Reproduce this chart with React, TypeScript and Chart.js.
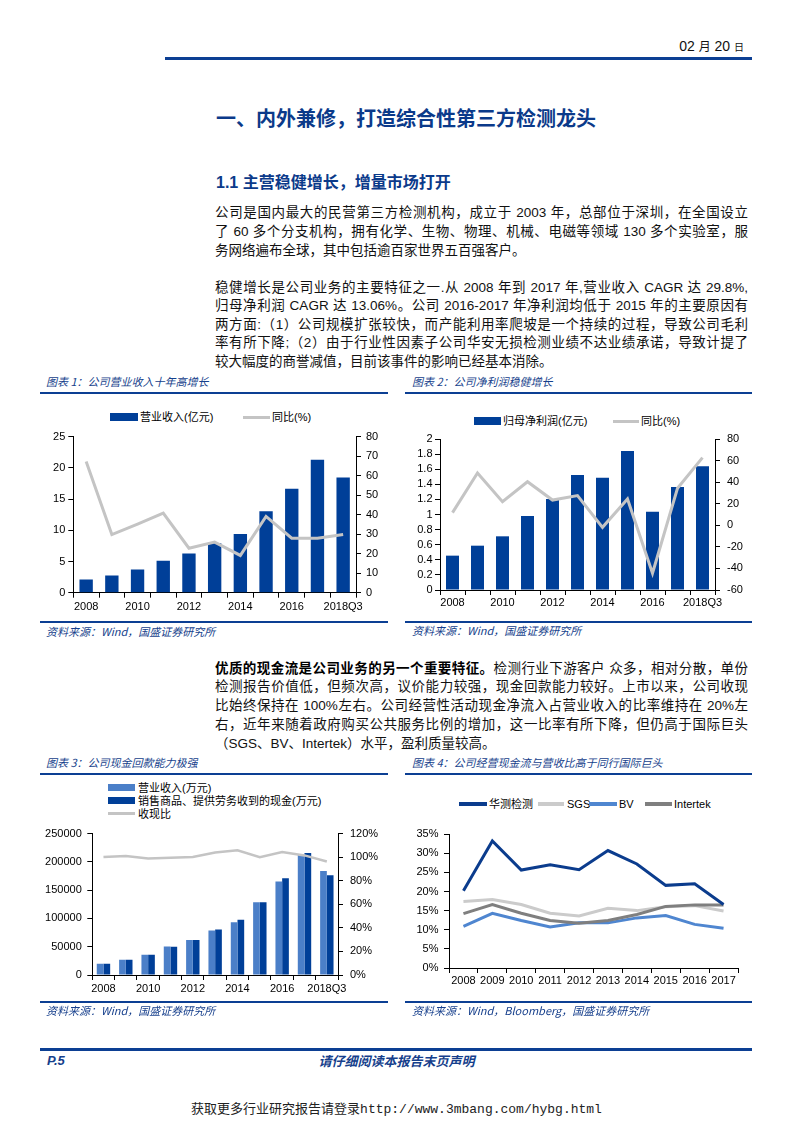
import React, { useEffect, useRef } from "react";
import { Chart, registerables } from "chart.js";

Chart.register(...registerables);

// ---------------- data ----------------
const yearsA = ["2008", "2009", "2010", "2011", "2012", "2013", "2014", "2015", "2016", "2017", "2018Q3"];
const revenueYi = [2.11, 2.75, 3.7, 5.13, 6.29, 7.93, 9.41, 13.05, 16.65, 21.3, 18.45];
const revenueGrowth = [67.3, 29.8, 35.2, 40.8, 22.8, 25.9, 19.1, 39.1, 27.9, 27.9, 29.8];
const profitYi = [0.455, 0.587, 0.711, 0.98, 1.205, 1.523, 1.488, 1.841, 1.037, 1.364, 1.638];
const profitGrowth = [11.7, 48.5, 21.9, 40.4, 23.4, 27.5, -1.9, 24.4, -44.5, 34.3, 62.7];
const revenueWan = [20100, 27000, 35600, 50600, 62000, 78700, 93100, 128700, 165500, 212600, 184000];
const cashReceivedWan = [20100, 27000, 35600, 50000, 62000, 80500, 97700, 128700, 171200, 215500, 176400];
const cashRatio = [100.1, 101.0, 98.8, 99.6, 100.1, 104.0, 105.9, 99.9, 104.3, 101.5, 96.3];
const yearsB = ["2008", "2009", "2010", "2011", "2012", "2013", "2014", "2015", "2016", "2017"];
const huaceRatio = [20.2, 33.2, 25.6, 27.0, 25.7, 30.7, 27.2, 21.6, 22.0, 16.6];
const sgsRatio = [17.4, 17.9, 16.6, 14.3, 13.6, 15.6, 15.0, 16.0, 16.3, 14.9];
const bvRatio = [10.9, 14.3, 12.4, 10.7, 11.8, 11.8, 13.1, 13.7, 11.4, 10.4];
const intertekRatio = [14.2, 16.6, 14.3, 12.4, 11.7, 12.4, 14.0, 16.1, 16.5, 16.5];

// axis ranges [min, max, step]
const axisRevenue = [0, 25, 5];
const axisRevenueGrowth = [0, 80, 10];
const axisProfit = [0, 2, 0.2];
const axisProfitGrowth = [-60, 80, 20];
const axisWan = [0, 250000, 50000];
const axisCashRatio = [0, 120, 20];
const axisPeer = [0, 35, 5];

// labels
const labelsChart1 = ["营业收入(亿元)", "同比(%)"];
const labelsChart2 = ["归母净利润(亿元)", "同比(%)"];
const labelsChart3 = ["营业收入(万元)", "销售商品、提供劳务收到的现金(万元)", "收现比"];
const labelsChart4 = ["华测检测", "SGS", "BV", "Intertek"];

// ---------------- styles ----------------
const DARK_BLUE = "#003f98";
const LIGHT_BLUE = "#4b7fc8";
const GRAY_LINE = "#c4c4c4";
const HUACE_C = "#0b3c8d";
const SGS_C = "#cbcbcb";
const BV_C = "#4f86d0";
const INTERTEK_C = "#7f7f7f";
const RULE_BLUE = "#0c3f93";
const TEXT_BLUE = "#163f8c";
const CJK = "'Noto Sans CJK SC', sans-serif";
const BODY = "'Liberation Sans', 'Noto Sans CJK SC', sans-serif";
const AXIS_FONT = { family: "'Liberation Sans', Arial, sans-serif", size: 11 };

function yScale(position: string, range: number[], width: number, padding: number, fmt?: (v: number) => string) {
  return {
    type: "linear",
    position,
    min: range[0],
    max: range[1],
    ticks: { stepSize: range[2], autoSkip: false, font: AXIS_FONT, color: "#000", padding, callback: fmt },
    grid: { drawOnChartArea: false, drawTicks: true, tickLength: 5, color: "#000" },
    border: { display: true, color: "#000", width: 1 },
    afterFit: (s: any) => {
      s.width = width;
    },
  };
}

function xScale(height: number, padding: number, everyOther: boolean) {
  return {
    type: "category",
    offset: true,
    grid: { offset: true, drawOnChartArea: false, drawTicks: true, tickLength: 5, color: "#000" },
    border: { display: true, color: "#000", width: 1 },
    ticks: {
      autoSkip: false,
      maxRotation: 0,
      minRotation: 0,
      padding,
      font: AXIS_FONT,
      color: "#000",
      callback: function (this: any, v: any, i: number) {
        return everyOther && i % 2 ? "" : this.getLabelForValue(v);
      },
    },
    afterFit: (s: any) => {
      s.height = height;
    },
  };
}

const baseOptions = (padding: any) => ({
  responsive: false,
  animation: false,
  layout: { padding },
  plugins: { legend: { display: false }, tooltip: { enabled: false } },
});

function config1(): any {
  return {
    type: "bar",
    data: {
      labels: yearsA,
      datasets: [
        { type: "line", label: labelsChart1[1], data: revenueGrowth, yAxisID: "y1", borderColor: GRAY_LINE, backgroundColor: GRAY_LINE, borderWidth: 3, pointRadius: 0, tension: 0, order: 0 },
        { type: "bar", label: labelsChart1[0], data: revenueYi, yAxisID: "y", backgroundColor: DARK_BLUE, barPercentage: 0.52, categoryPercentage: 1, order: 1 },
      ],
    },
    options: {
      ...baseOptions({ top: 10, left: 0, right: 0, bottom: 0 }),
      scales: {
        x: xScale(27.3, 3, true),
        y: yScale("left", axisRevenue, 33.3, 3),
        y1: yScale("right", axisRevenueGrowth, 32, 5),
      },
    },
  };
}

function config2(): any {
  return {
    type: "bar",
    data: {
      labels: yearsA,
      datasets: [
        { type: "line", label: labelsChart2[1], data: profitGrowth, yAxisID: "y1", borderColor: GRAY_LINE, backgroundColor: GRAY_LINE, borderWidth: 3, pointRadius: 0, tension: 0, order: 0 },
        { type: "bar", label: labelsChart2[0], data: profitYi, yAxisID: "y", backgroundColor: DARK_BLUE, barPercentage: 0.52, categoryPercentage: 1, order: 1 },
      ],
    },
    options: {
      ...baseOptions({ top: 14, left: 0, right: 0, bottom: 0 }),
      scales: {
        x: xScale(30, 1, true),
        y: yScale("left", axisProfit, 36, 2.5, (v: number) => String(Math.round(v * 10) / 10)),
        y1: yScale("right", axisProfitGrowth, 37, 7),
      },
    },
  };
}

function config3(): any {
  return {
    type: "bar",
    data: {
      labels: yearsA,
      datasets: [
        { type: "line", label: labelsChart3[2], data: cashRatio, yAxisID: "y1", borderColor: GRAY_LINE, backgroundColor: GRAY_LINE, borderWidth: 2.5, pointRadius: 0, tension: 0, order: 0 },
        { type: "bar", label: labelsChart3[0], data: revenueWan, yAxisID: "y", backgroundColor: LIGHT_BLUE, barPercentage: 1, categoryPercentage: 0.6, order: 1 },
        { type: "bar", label: labelsChart3[1], data: cashReceivedWan, yAxisID: "y", backgroundColor: DARK_BLUE, barPercentage: 1, categoryPercentage: 0.6, order: 1 },
      ],
    },
    options: {
      ...baseOptions({ top: 10, left: 0, right: 0, bottom: 0 }),
      scales: {
        x: xScale(30, 2, true),
        y: yScale("left", axisWan, 52.3, 5.5, (v: number) => String(v)),
        y1: yScale("right", axisCashRatio, 50, 7, (v: number) => v + "%"),
      },
    },
  };
}

function config4(): any {
  const line = (label: string, data: number[], color: string, order: number) => ({
    label, data, borderColor: color, backgroundColor: color, borderWidth: 3, pointRadius: 0, tension: 0, order,
  });
  return {
    type: "line",
    data: {
      labels: yearsB,
      datasets: [
        line(labelsChart4[0], huaceRatio, HUACE_C, 0),
        line(labelsChart4[1], sgsRatio, SGS_C, 3),
        line(labelsChart4[2], bvRatio, BV_C, 2),
        line(labelsChart4[3], intertekRatio, INTERTEK_C, 1),
      ],
    },
    options: {
      ...baseOptions({ top: 10, left: 0, right: 14, bottom: 0 }),
      scales: {
        x: xScale(34, 1.5, false),
        y: yScale("left", axisPeer, 45, 5.5, (v: number) => v + "%"),
      },
    },
  };
}

function ChartCanvas({ left, top, width, height, make }: any) {
  const ref = useRef<HTMLCanvasElement | null>(null);
  useEffect(() => {
    const chart = new Chart(ref.current as HTMLCanvasElement, make());
    return () => chart.destroy();
  }, []);
  return (
    <canvas
      ref={ref}
      width={width}
      height={height}
      style={{ position: "absolute", left, top, width, height }}
    />
  );
}

// ---------------- text helpers ----------------
function Txt({ x, y, size, lh, children, style }: any) {
  const h = lh || Math.round(size * 1.4);
  return (
    <div
      style={{
        position: "absolute",
        left: x,
        top: y - h / 2,
        height: h,
        lineHeight: h + "px",
        fontSize: size,
        whiteSpace: "nowrap",
        fontFamily: BODY,
        ...style,
      }}
    >
      {children}
    </div>
  );
}

function Rule({ x1, x2, y, h, color }: any) {
  return <div style={{ position: "absolute", left: x1, top: y, width: x2 - x1, height: h || 2, background: color || RULE_BLUE }} />;
}

function JLine({ y, children, last }: any) {
  return (
    <div
      style={{
        position: "absolute",
        left: 215,
        width: 533,
        top: y - 9.5,
        height: 19,
        lineHeight: "19px",
        fontSize: 13.5,
        fontFamily: BODY,
        color: "#111",
        textAlign: last ? "left" : "justify",
        textAlignLast: last ? "left" : "justify",
      } as any}
    >
      {children}
    </div>
  );
}

function Swatch({ x, w, y, h, color }: any) {
  return <div style={{ position: "absolute", left: x, top: y - h / 2, width: w, height: h, background: color }} />;
}

function Legend({ x, y, w, h, color, label, labelX }: any) {
  return (
    <>
      <Swatch x={x} w={w} y={y} h={h} color={color} />
      <Txt x={labelX} y={y} size={11} lh={16} style={{ fontFamily: BODY, color: "#000" }}>
        {label}
      </Txt>
    </>
  );
}

const capStyle = { fontFamily: CJK, fontStyle: "italic", color: TEXT_BLUE };

export default function App() {
  return (
    <div
      style={{
        position: "absolute",
        left: 0,
        top: 0,
        width: 793,
        height: 1122,
        background: "#fff",
        overflow: "hidden",
        fontFamily: BODY,
      }}
    >
      {/* header */}
      <div
        style={{
          position: "absolute",
          right: 793 - 744,
          top: 37,
          height: 18,
          lineHeight: "18px",
          whiteSpace: "nowrap",
          color: "#111",
          fontFamily: "'Liberation Sans Narrow', 'Liberation Sans', sans-serif",
          fontSize: 14,
        }}
      >
        02 <span style={{ fontFamily: CJK, fontSize: 12 }}>月</span> 20 <span style={{ fontFamily: CJK, fontSize: 10 }}>日</span>
      </div>
      <Rule x1={165} x2={752} y={56.5} h={3} />

      {/* titles */}
      <Txt x={216} y={118} size={20} style={{ fontFamily: CJK, fontWeight: 700, color: "#0b3a8a" }}>
        一、内外兼修，打造综合性第三方检测龙头
      </Txt>
      <Txt x={216} y={183} size={16} style={{ fontWeight: 700, color: "#0b3a8a" }}>
        1.1 主营稳健增长，增量市场打开
      </Txt>

      {/* paragraph 1 */}
      <JLine y={212.5}>公司是国内最大的民营第三方检测机构，成立于 2003 年，总部位于深圳，在全国设立</JLine>
      <JLine y={231.3}>了 60 多个分支机构，拥有化学、生物、物理、机械、电磁等领域 130 多个实验室，服</JLine>
      <JLine y={250} last>务网络遍布全球，其中包括逾百家世界五百强客户。</JLine>

      {/* paragraph 2 */}
      <JLine y={287}>稳健增长是公司业务的主要特征之一.从 2008 年到 2017 年,营业收入 CAGR 达 29.8%,</JLine>
      <JLine y={305.6}>归母净利润 CAGR 达 13.06%。公司 2016-2017 年净利润均低于 2015 年的主要原因有</JLine>
      <JLine y={324.2}>两方面:（1）公司规模扩张较快，而产能利用率爬坡是一个持续的过程，导致公司毛利</JLine>
      <JLine y={342.8}>率有所下降;（2）由于行业性因素子公司华安无损检测业绩不达业绩承诺，导致计提了</JLine>
      <JLine y={361.4} last>较大幅度的商誉减值，目前该事件的影响已经基本消除。</JLine>

      {/* chart 1 */}
      <Txt x={46} y={381.5} size={11} style={capStyle}>图表 1：公司营业收入十年高增长</Txt>
      <Rule x1={40} x2={388} y={391.5} h={2} />
      <Legend x={110} w={28} y={417} h={8} color={DARK_BLUE} label={labelsChart1[0]} labelX={140} />
      <Legend x={243} w={27} y={417} h={3} color={GRAY_LINE} label={labelsChart1[1]} labelX={272} />
      <ChartCanvas left={40} top={425} width={348} height={195} make={config1} />
      <Rule x1={40} x2={388} y={621} h={2} />
      <Txt x={46} y={631} size={11} style={capStyle}>资料来源：Wind，国盛证券研究所</Txt>

      {/* chart 2 */}
      <Txt x={412} y={381.5} size={11} style={capStyle}>图表 2：公司净利润稳健增长</Txt>
      <Rule x1={405} x2={752} y={391.5} h={2} />
      <Legend x={474} w={27} y={421} h={8} color={DARK_BLUE} label={labelsChart2[0]} labelX={503} />
      <Legend x={613} w={26} y={421} h={3} color={GRAY_LINE} label={labelsChart2[1]} labelX={641} />
      <ChartCanvas left={404} top={425} width={348} height={195} make={config2} />
      <Rule x1={405} x2={752} y={621} h={2} />
      <Txt x={412} y={630} size={11} style={capStyle}>资料来源：Wind，国盛证券研究所</Txt>

      {/* paragraph 3 */}
      <JLine y={667}>
        <b style={{ fontFamily: CJK, fontWeight: 700, color: "#000" }}>优质的现金流是公司业务的另一个重要特征。</b>检测行业下游客户 众多，相对分散，单份
      </JLine>
      <JLine y={686}>检测报告价值低，但频次高，议价能力较强，现金回款能力较好。上市以来，公司收现</JLine>
      <JLine y={705}>比始终保持在 100%左右。公司经营性活动现金净流入占营业收入的比率维持在 20%左</JLine>
      <JLine y={724}>右，近年来随着政府购买公共服务比例的增加，这一比率有所下降，但仍高于国际巨头</JLine>
      <JLine y={743} last>（SGS、BV、Intertek）水平，盈利质量较高。</JLine>

      {/* chart 3 */}
      <Txt x={46} y={762} size={11} style={capStyle}>图表 3：公司现金回款能力极强</Txt>
      <Rule x1={40} x2={388} y={772.5} h={2} />
      <Legend x={108} w={27} y={787.5} h={7} color={LIGHT_BLUE} label={labelsChart3[0]} labelX={138} />
      <Legend x={108} w={27} y={800.5} h={7} color={DARK_BLUE} label={labelsChart3[1]} labelX={138} />
      <Legend x={108} w={27} y={813.5} h={3} color={GRAY_LINE} label={labelsChart3[2]} labelX={138} />
      <ChartCanvas left={40} top={820} width={348} height={185} make={config3} />
      <Rule x1={40} x2={388} y={1001} h={2} />
      <Txt x={46} y={1010} size={11} style={capStyle}>资料来源：Wind，国盛证券研究所</Txt>

      {/* chart 4 */}
      <Txt x={412} y={762} size={11} style={capStyle}>图表 4：公司经营现金流与营收比高于同行国际巨头</Txt>
      <Rule x1={405} x2={752} y={772.5} h={2} />
      <Legend x={459} w={28} y={804} h={3.5} color={HUACE_C} label={labelsChart4[0]} labelX={489} />
      <Legend x={538} w={26} y={804} h={3.5} color={SGS_C} label={labelsChart4[1]} labelX={567} />
      <Legend x={589} w={28} y={804} h={3.5} color={BV_C} label={labelsChart4[2]} labelX={619} />
      <Legend x={645} w={27} y={804} h={3.5} color={INTERTEK_C} label={labelsChart4[3]} labelX={674} />
      <ChartCanvas left={404} top={822} width={348} height={180} make={config4} />
      <Rule x1={405} x2={752} y={1001} h={2} />
      <Txt x={412} y={1010} size={11} style={capStyle}>资料来源：Wind，Bloomberg，国盛证券研究所</Txt>

      {/* footer */}
      <Rule x1={40} x2={752} y={1048} h={3} />
      <Txt x={47} y={1061} size={13} style={{ fontWeight: 700, fontStyle: "italic", color: TEXT_BLUE }}>P.5</Txt>
      <div
        style={{
          position: "absolute",
          left: 0,
          width: 793,
          top: 1052,
          height: 18,
          lineHeight: "18px",
          textAlign: "center",
          paddingLeft: 0,
          fontFamily: CJK,
          fontSize: 13,
          fontWeight: 700,
          fontStyle: "italic",
          color: TEXT_BLUE,
        }}
      >
        请仔细阅读本报告末页声明
      </div>
      <div
        style={{
          position: "absolute",
          left: 0,
          width: 793,
          top: 1101,
          height: 18,
          lineHeight: "18px",
          textAlign: "center",
          fontFamily: "'Liberation Mono', 'Noto Sans CJK SC', monospace",
          fontSize: 13,
          color: "#222",
        }}
      >
        获取更多行业研究报告请登录http://www.3mbang.com/hybg.html
      </div>
    </div>
  );
}
